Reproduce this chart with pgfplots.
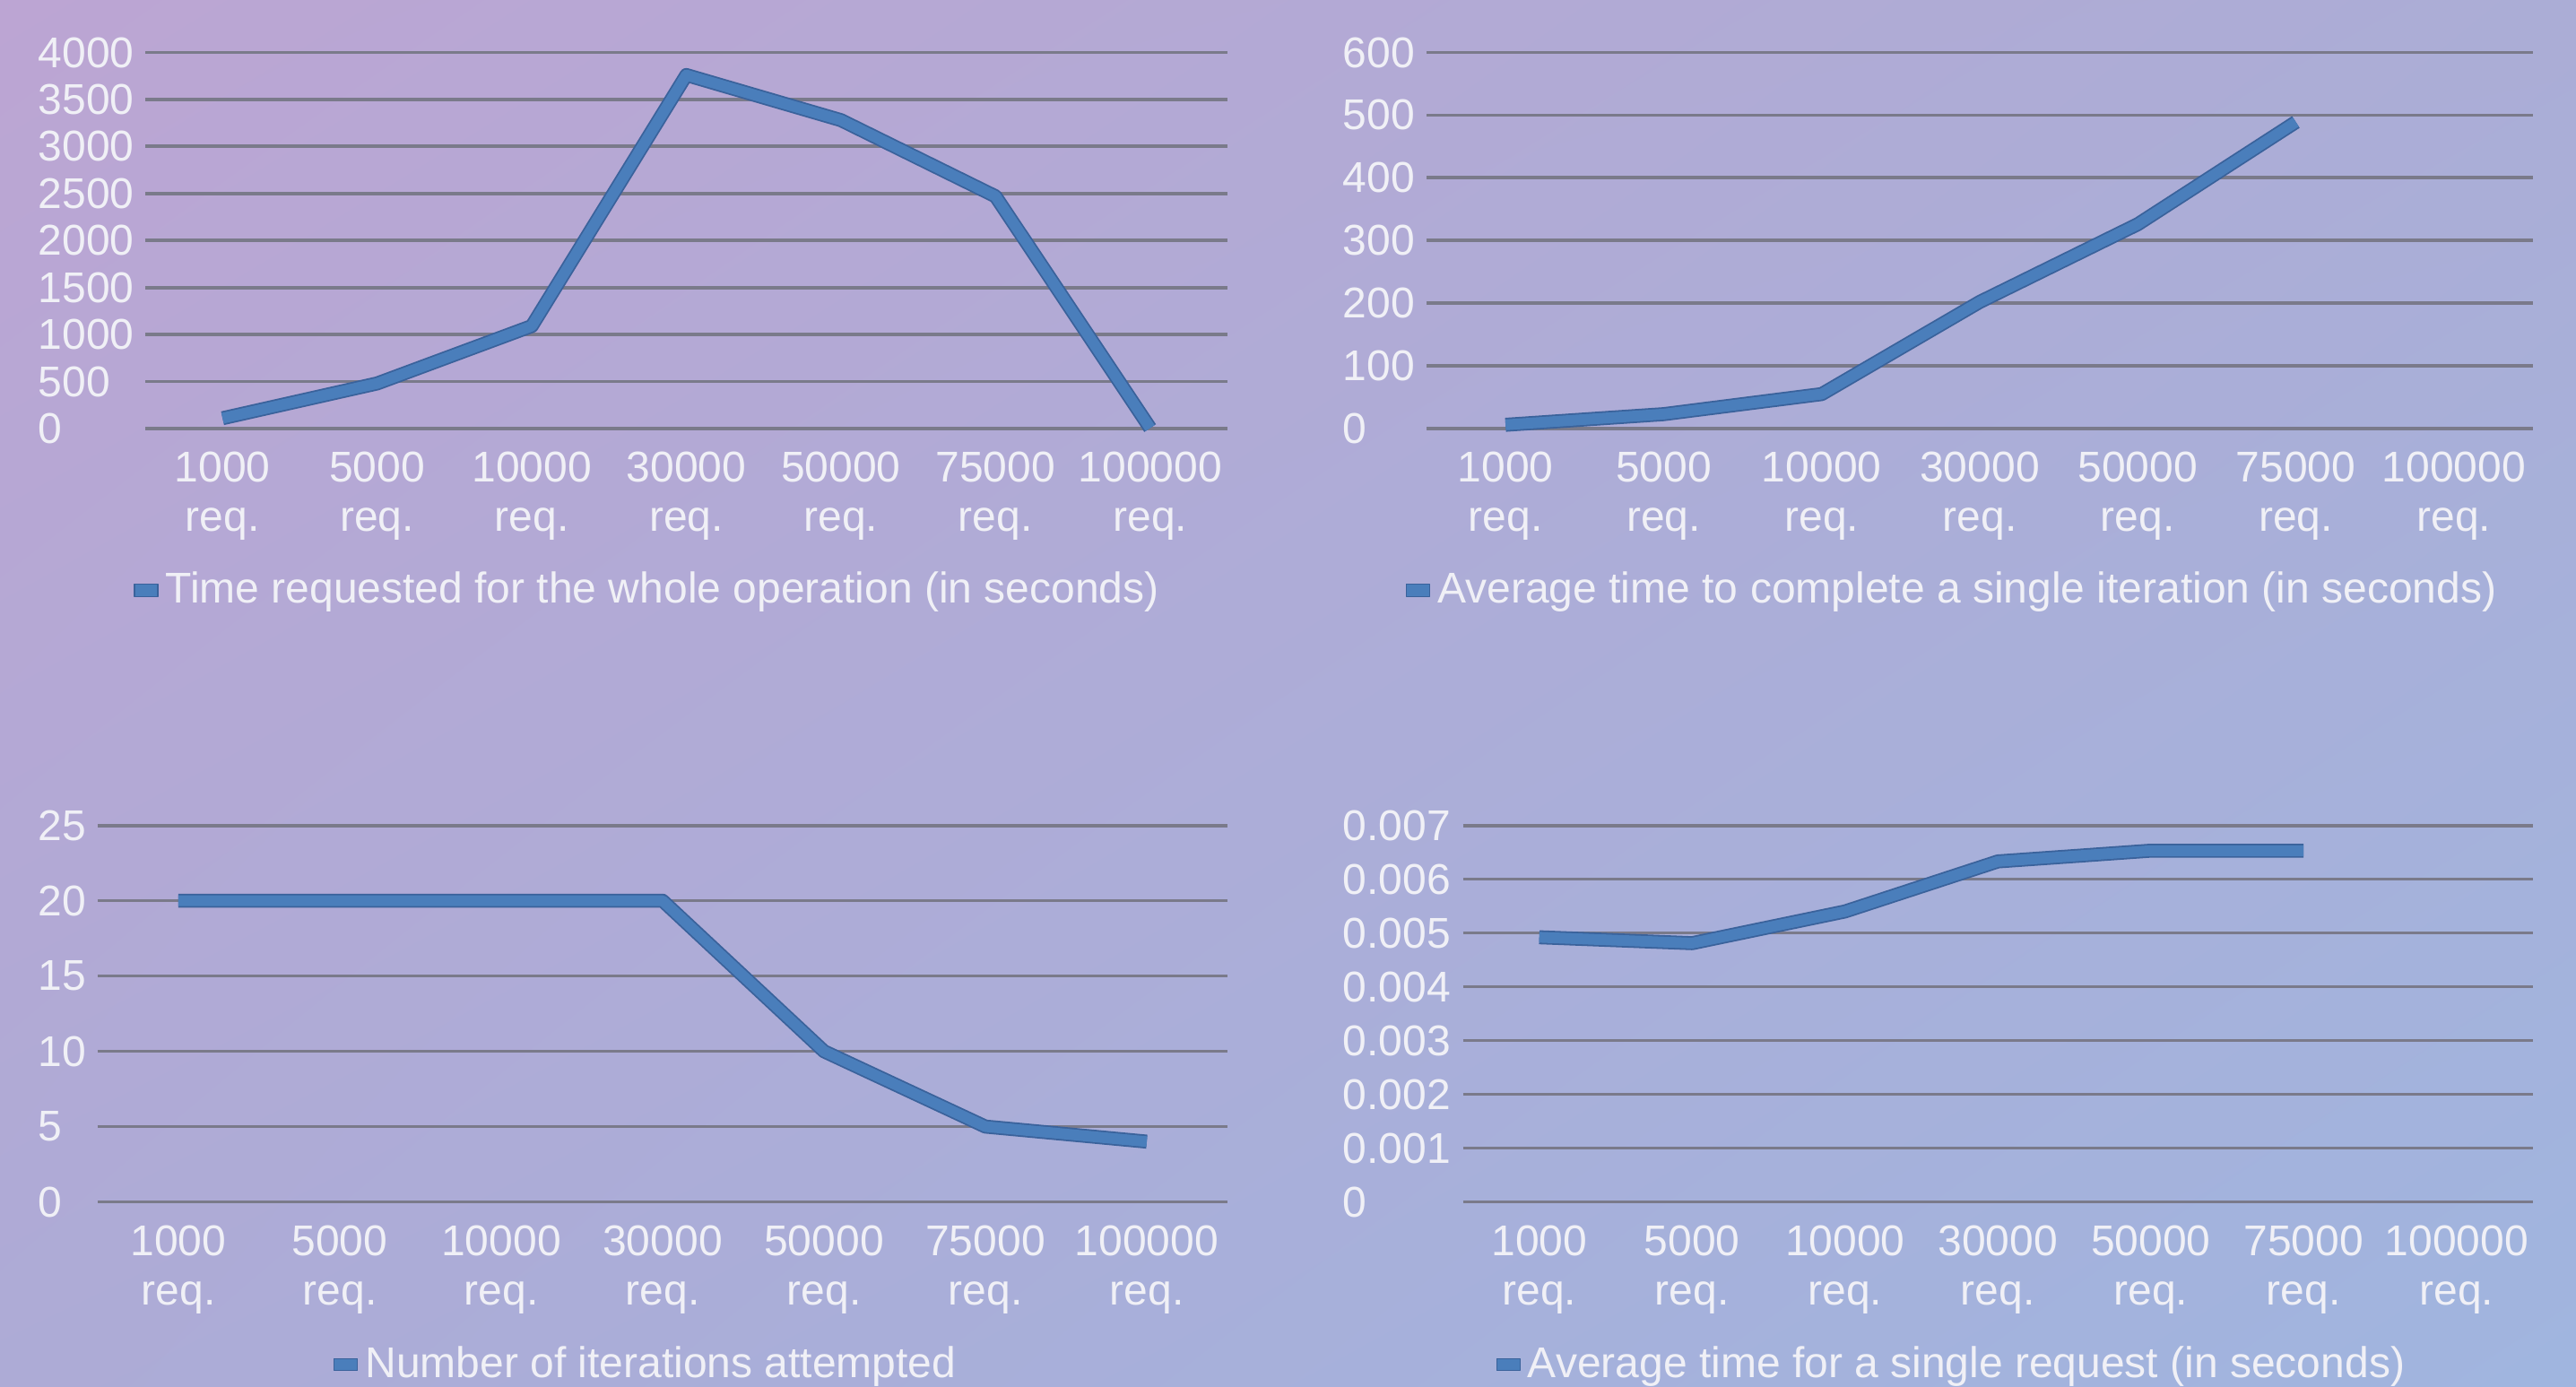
\documentclass[border=0pt]{standalone}
\usepackage{pgfplots}
\pgfplotsset{compat=1.18}
\usetikzlibrary{shadings}
\usepackage{fontspec}
\setmainfont{Liberation Sans}
\definecolor{bgTL}{RGB}{188,165,211}
\definecolor{bgTR}{RGB}{171,173,214}
\definecolor{bgBL}{RGB}{173,171,214}
\definecolor{bgBR}{RGB}{160,181,223}
\definecolor{lineblue}{RGB}{74,126,187}
\definecolor{lineedge}{RGB}{58,98,155}
\definecolor{gridc}{RGB}{122,122,138}
\definecolor{txt}{RGB}{240,240,246}
\newcommand{\lblfont}{\fontsize{12}{13.8}\selectfont}
\pgfplotsset{
  panel/.style={
    scale only axis, anchor=south west,
    xmin=-0.5, xmax=6.5, ymin=0,
    xtick={0,...,6},
    xticklabels={{1000\\req.},{5000\\req.},{10000\\req.},{30000\\req.},{50000\\req.},{75000\\req.},{100000\\req.}},
    xticklabel style={align=center, font=\lblfont, text=txt, inner sep=0pt, yshift=-6.3pt},
    axis line style={draw=none},
    major tick length=0pt,
    ymajorgrids, grid style={gridc, line width=0.95pt},
    scaled y ticks=false,
    /pgf/number format/assume math mode=true,
    yticklabel style={anchor=west, font=\lblfont, text=txt, inner sep=0pt},
    legend style={draw=none, fill=none, font=\lblfont, text=txt, inner sep=0pt, anchor=center,
      /tikz/every even column/.append style={column sep=0pt}},
    legend cell align=left,
    legend image code/.code={\fill[lineblue, draw=lineedge, line width=0.3pt] (-1pt,-1.7pt) rectangle (5.5pt,1.7pt);},
    clip=false,
  },
  edge/.style={lineedge, line width=3.9pt, line join=round, forget plot},
  main/.style={lineblue, line width=3.0pt, line join=round},
}
\begin{document}
\begin{tikzpicture}
\useasboundingbox (0,0) rectangle (718.25pt,386.5pt);
\shade[upper left=bgTL, upper right=bgTR, lower left=bgBL, lower right=bgBR] (0,0) rectangle (718.25pt,386.5pt);

% Panel 1
\begin{axis}[panel, at={(40.5pt,267pt)}, width=301.75pt, height=104.875pt,
  ymax=4000, ytick={0,500,1000,1500,2000,2500,3000,3500,4000},
  yticklabels={0,500,1000,1500,2000,2500,3000,3500,4000},
  yticklabel style={xshift=-30pt},
  legend style={at={(0.4665,-0.430)}}]
\addplot[edge] coordinates {(0,110) (1,480) (2,1090) (3,3760) (4,3280) (5,2470) (6,5)};
\addplot[main] coordinates {(0,110) (1,480) (2,1090) (3,3760) (4,3280) (5,2470) (6,5)};
\addlegendentry{Time requested for the whole operation (in seconds)}
\end{axis}

% Panel 2
\begin{axis}[panel, at={(397.75pt,267pt)}, width=308.5pt, height=104.875pt,
  ymax=600, ytick={0,100,200,300,400,500,600},
  yticklabels={0,100,200,300,400,500,600},
  yticklabel style={xshift=-23.5pt},
  legend style={at={(0.4776,-0.430)}}]
\addplot[edge] coordinates {(0,6) (1,23) (2,55) (3,202) (4,326) (5,489)};
\addplot[main] coordinates {(0,6) (1,23) (2,55) (3,202) (4,326) (5,489)};
\addlegendentry{Average time to complete a single iteration (in seconds)}
\end{axis}

% Panel 3
\begin{axis}[panel, at={(27.25pt,51.375pt)}, width=315pt, height=104.975pt,
  ymax=25, ytick={0,5,10,15,20,25},
  yticklabels={0,5,10,15,20,25},
  yticklabel style={xshift=-16.75pt},
  legend style={at={(0.4876,-0.432)}}]
\addplot[edge] coordinates {(0,20) (1,20) (2,20) (3,20) (4,10) (5,5) (6,4)};
\addplot[main] coordinates {(0,20) (1,20) (2,20) (3,20) (4,10) (5,5) (6,4)};
\addlegendentry{Number of iterations attempted}
\end{axis}

% Panel 4
\begin{axis}[panel, at={(407.875pt,51.375pt)}, width=298.375pt, height=104.975pt,
  ymax=0.007, ytick={0,0.001,0.002,0.003,0.004,0.005,0.006,0.007},
  yticklabels={0,0.001,0.002,0.003,0.004,0.005,0.006,0.007},
  yticklabel style={xshift=-33.6pt},
  legend style={at={(0.4591,-0.432)}}]
\addplot[edge] coordinates {(0,0.00492) (1,0.00481) (2,0.0054) (3,0.00633) (4,0.00653) (5,0.00653)};
\addplot[main] coordinates {(0,0.00492) (1,0.00481) (2,0.0054) (3,0.00633) (4,0.00653) (5,0.00653)};
\addlegendentry{Average time for a single request (in seconds)}
\end{axis}
\end{tikzpicture}
\end{document}
